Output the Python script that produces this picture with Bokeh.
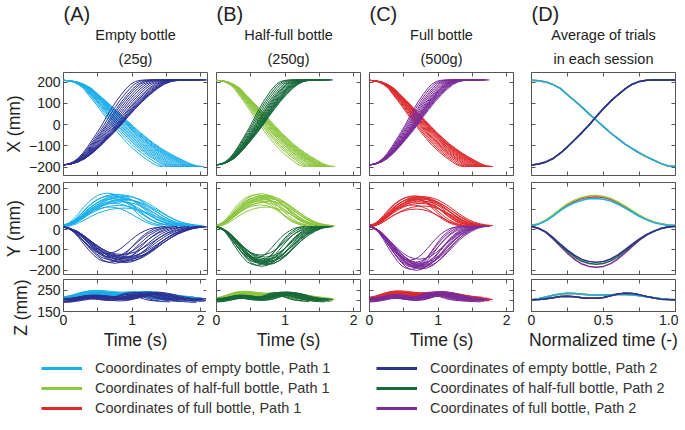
import numpy as np
from bokeh.plotting import figure
from bokeh.layouts import row, column
from bokeh.models import Range1d, FixedTicker, LinearAxis, Title, Legend, LegendItem
from bokeh.embed import file_html
from bokeh.resources import INLINE

# ---------------- data ----------------
norm_time = [0.0, 0.05, 0.1, 0.15, 0.2, 0.25, 0.3, 0.35, 0.4, 0.45, 0.5,
             0.55, 0.6, 0.65, 0.7, 0.75, 0.8, 0.85, 0.9, 0.95, 1.0]
# session-average profiles (panel D)
avg_x_path1 = [208, 206, 200, 188, 170, 140, 112, 82, 50, 20, -10, -40, -66, -92, -114, -134, -152, -168, -184, -195, -198]
avg_x_path2 = [-190, -186, -176, -160, -135, -105, -72, -38, -2, 38, 75, 110, 140, 168, 190, 203, 208, 210, 210, 210, 210]
avg_y_path1 = [20, 28, 45, 70, 98, 122, 140, 153, 160, 162, 158, 148, 132, 112, 90, 68, 50, 36, 28, 22, 20]
avg_y_path2 = [15, 5, -12, -40, -72, -102, -128, -148, -158, -162, -158, -146, -126, -100, -72, -46, -24, -8, 5, 12, 15]
avg_z_path1 = [205, 210, 218, 226, 232, 235, 234, 231, 228, 226, 226, 228, 230, 230, 228, 224, 219, 214, 210, 207, 205]
avg_z_path2 = [205, 206, 210, 215, 220, 221, 219, 215, 212, 212, 216, 224, 232, 236, 234, 228, 220, 213, 208, 206, 205]
profile_peak = 162

sessions = ["empty", "half", "full"]
session_peak_path1 = [152, 166, 160]
session_peak_path2 = [-160, -170, -185]

# individual trials: duration (s), peak of Y (mm), offset of Z (mm)
dur_empty_p1 = [1.45, 1.52, 1.58, 1.62, 1.66, 1.70, 1.74, 1.78, 1.82, 1.86, 1.90, 1.93, 1.96, 1.99, 2.02, 2.05]
peak_empty_p1 = [178, 110, 165, 150, 128, 172, 140, 160, 118, 155, 170, 135, 148, 105, 162, 145]
zoff_empty_p1 = [8, -4, 12, 0, 5, -6, 10, 2, -2, 6, 14, -8, 4, 0, 9, -3]
dur_empty_p2 = [1.40, 1.48, 1.55, 1.60, 1.66, 1.72, 1.78, 1.84, 1.90, 1.94, 1.98, 2.01, 2.04, 2.06, 2.08, 2.10]
peak_empty_p2 = [-118, -160, -135, -150, -165, -128, -145, -158, -122, -140, -162, -150, -132, -155, -145, -138]
zoff_empty_p2 = [-6, 2, -10, 4, -2, -8, 0, 6, -4, -12, 3, -5, 1, -7, 5, -1]

dur_half_p1 = [1.30, 1.36, 1.40, 1.44, 1.48, 1.50, 1.53, 1.56, 1.58, 1.60, 1.62, 1.64, 1.66, 1.68, 1.70, 1.73]
peak_half_p1 = [170, 140, 160, 120, 175, 150, 165, 132, 158, 145, 168, 110, 155, 162, 138, 150]
zoff_half_p1 = [4, -6, 8, 0, -3, 6, -8, 2, 10, -4, 0, 5, -2, 7, -5, 3]
dur_half_p2 = [1.25, 1.30, 1.35, 1.40, 1.44, 1.47, 1.50, 1.53, 1.56, 1.58, 1.60, 1.62, 1.64, 1.66, 1.68, 1.70]
peak_half_p2 = [-140, -175, -155, -165, -125, -180, -160, -150, -170, -135, -162, -158, -172, -145, -168, -155]
zoff_half_p2 = [-4, 3, -8, 0, 5, -6, 2, -2, 6, -10, 1, -3, 4, -7, 0, 2]

dur_full_p1 = [1.38, 1.42, 1.46, 1.50, 1.53, 1.56, 1.59, 1.62, 1.65, 1.67, 1.70, 1.72, 1.74, 1.76, 1.78, 1.80]
peak_full_p1 = [160, 120, 150, 165, 100, 145, 158, 135, 162, 128, 150, 140, 155, 115, 148, 160]
zoff_full_p1 = [6, -2, 10, -6, 2, 8, -4, 0, 12, -8, 4, -1, 7, -5, 3, 0]
dur_full_p2 = [1.30, 1.35, 1.40, 1.44, 1.48, 1.52, 1.55, 1.58, 1.60, 1.62, 1.64, 1.66, 1.68, 1.70, 1.72, 1.75]
peak_full_p2 = [-150, -195, -175, -185, -160, -200, -180, -170, -190, -145, -185, -178, -165, -192, -172, -182]
zoff_full_p2 = [-2, 4, -6, 0, 6, -8, 2, -4, 8, -10, 0, 3, -3, 5, -5, 1]

titles = [("(A)", "Empty bottle", "(25g)"), ("(B)", "Half-full bottle", "(250g)"),
          ("(C)", "Full bottle", "(500g)"), ("(D)", "Average of trials", "in each session")]
legend_labels_path1 = ["Cooordinates of empty bottle, Path 1", "Coordinates of half-full bottle, Path 1",
                       "Coordinates of full bottle, Path 1"]
legend_labels_path2 = ["Coordinates of empty bottle, Path 2", "Coordinates of half-full bottle, Path 2",
                       "Coordinates of full bottle, Path 2"]

colors_path1 = ["#1AAEEA", "#8DC63F", "#DE2A2E"]
colors_path2 = ["#2E3192", "#17693A", "#7B2C9A"]

time_ticks, time_minor = [0, 1, 2], [0.5, 1.5]
norm_ticks, norm_minor = [0, 0.5, 1], [0.25, 0.75]
norm_labels = {1: "1.0"}
xy_ticks, xy_minor = [-200, -100, 0, 100, 200], []
z_ticks, z_minor = [150, 250], [200]

trials = {
    "empty": [(dur_empty_p1, peak_empty_p1, zoff_empty_p1), (dur_empty_p2, peak_empty_p2, zoff_empty_p2)],
    "half": [(dur_half_p1, peak_half_p1, zoff_half_p1), (dur_half_p2, peak_half_p2, zoff_half_p2)],
    "full": [(dur_full_p1, peak_full_p1, zoff_full_p1), (dur_full_p2, peak_full_p2, zoff_full_p2)],
}

# ---------------- styling helpers ----------------
FONT = "Liberation Sans"
AX = "#555555"
TXT = "#222222"


def set_axis(ax, ticks, minor, labeled, overrides=None, axis_label=None):
    ax.axis_line_color = None
    ax.major_tick_in = 4
    ax.major_tick_out = 0
    ax.minor_tick_in = 4
    ax.minor_tick_out = 0
    ax.major_tick_line_color = AX
    ax.minor_tick_line_color = AX
    if labeled:
        ax.ticker = FixedTicker(ticks=ticks, minor_ticks=minor)
        ax.major_label_text_font = FONT
        ax.major_label_text_color = TXT
        ax.major_label_text_font_size = "14px"
        ax.major_label_standoff = 3
        if overrides:
            ax.major_label_overrides = overrides
    else:
        ax.ticker = FixedTicker(ticks=[], minor_ticks=sorted(ticks + minor))
        ax.major_label_standoff = 0
    if axis_label:
        ax.axis_label = axis_label
        ax.axis_label_text_font = FONT
        ax.axis_label_text_font_size = "17.5px"
        ax.axis_label_text_font_style = "normal"
        ax.axis_label_text_color = TXT
        ax.axis_label_standoff = 2


def make_panel(fh, xr, yr, bl, br, bt, bb, xt, xm, xlabeled, xover, yt, ym, ylabeled, xlab, ylab):
    p = figure(frame_width=144, frame_height=fh, x_range=Range1d(*xr), y_range=Range1d(*yr),
               toolbar_location=None, output_backend="svg", x_axis_type=None, y_axis_type=None,
               min_border_left=bl, min_border_right=br, min_border_top=bt, min_border_bottom=bb)
    p.outline_line_color = AX
    p.outline_line_width = 1
    p.background_fill_color = "white"
    p.border_fill_color = "white"
    bottom, left, top, right = LinearAxis(), LinearAxis(), LinearAxis(), LinearAxis()
    set_axis(bottom, xt, xm, xlabeled, xover, xlab)
    set_axis(left, yt, ym, ylabeled, None, ylab)
    set_axis(top, xt, xm, False)
    set_axis(right, yt, ym, False)
    p.add_layout(bottom, "below")
    p.add_layout(left, "left")
    p.add_layout(top, "above")
    p.add_layout(right, "right")
    return p


b_left = [54, 5, 5, 9]
b_right = [4, 4, 9, 3]

columns = []
for ci in range(4):
    is_avg = ci == 3
    xr = (0, 1.0) if is_avg else (0, 2.1)
    xt, xm = (norm_ticks, norm_minor) if is_avg else (time_ticks, time_minor)
    xover = norm_labels if is_avg else None
    first = ci == 0
    px = make_panel(103, xr, (-240, 245), b_left[ci], b_right[ci], 69, 4,
                    xt, xm, False, None, xy_ticks, xy_minor, first, None, "X (mm)" if first else None)
    py = make_panel(92, xr, (-220, 230), b_left[ci], b_right[ci], 3, 5,
                    xt, xm, False, None, xy_ticks, xy_minor, first, None, "Y (mm)" if first else None)
    pz = make_panel(32, xr, (150, 300), b_left[ci], b_right[ci], 0, 40,
                    xt, xm, True, xover, z_ticks, z_minor, first,
                    "Normalized time (-)" if is_avg else "Time (s)", None)
    if first:
        # the Z panel is short: its label hangs down from the top of the panel
        pz.add_layout(Title(text="Z (mm)", align="right", text_font=FONT, text_font_size="17.5px",
                            text_font_style="normal", text_color=TXT, standoff=7), "left")

    letter, t1, t2 = titles[ci]
    px.add_layout(Title(text=t2, align="center", text_font=FONT, text_font_size="14.5px",
                        text_font_style="normal", text_color=TXT, standoff=12), "above")
    px.add_layout(Title(text=t1, align="center", text_font=FONT, text_font_size="14.5px",
                        text_font_style="normal", text_color=TXT, standoff=0), "above")
    px.add_layout(Title(text=letter, align="left", text_font=FONT, text_font_size="20px",
                        text_font_style="normal", text_color=TXT, standoff=0), "above")

    if not is_avg:
        key = sessions[ci]
        for path in (0, 1):
            durs, peaks, zoffs = trials[key][path]
            px_prof = np.array(avg_x_path1 if path == 0 else avg_x_path2, dtype=float)
            py_prof = np.array(avg_y_path1 if path == 0 else avg_y_path2, dtype=float)
            pz_prof = np.array(avg_z_path1 if path == 0 else avg_z_path2, dtype=float)
            sign = 1 if path == 0 else -1
            xs = [np.array(norm_time) * d for d in durs]
            col = colors_path1[ci] if path == 0 else colors_path2[ci]
            px.multi_line(xs=xs, ys=[px_prof for _ in durs], line_color=col, line_width=1)
            py.multi_line(xs=xs, ys=[py_prof * (pk * sign / profile_peak) for pk in peaks],
                          line_color=col, line_width=1)
            pz.multi_line(xs=xs, ys=[pz_prof + zo for zo in zoffs], line_color=col, line_width=1)
    else:
        for si in (2, 1, 0):
            px.line(norm_time, avg_x_path1, line_color=colors_path1[si], line_width=1.5)
            px.line(norm_time, avg_x_path2, line_color=colors_path2[si], line_width=1.5)
            py.line(norm_time, np.array(avg_y_path1) * session_peak_path1[si] / profile_peak,
                    line_color=colors_path1[si], line_width=1.5)
            py.line(norm_time, np.array(avg_y_path2) * -session_peak_path2[si] / profile_peak,
                    line_color=colors_path2[si], line_width=1.5)
            pz.line(norm_time, avg_z_path1, line_color=colors_path1[si], line_width=1.5)
            pz.line(norm_time, avg_z_path2, line_color=colors_path2[si], line_width=1.5)
    columns.append(column(px, py, pz, spacing=0))

# ---------------- legend ----------------
pl = figure(width=669, height=66, x_range=(0, 1), y_range=(1000, 1001), toolbar_location=None,
            output_backend="svg", x_axis_type=None, y_axis_type=None, min_border=0)
pl.xgrid.visible = False
pl.ygrid.visible = False
pl.outline_line_color = None
for labels, cols, prof, xloc in ((legend_labels_path1, colors_path1, avg_x_path1, 41),
                                 (legend_labels_path2, colors_path2, avg_x_path2, 376)):
    items = []
    for lab, c in zip(labels, cols):
        # real data, outside this empty frame, so that only the legend glyph shows
        r = pl.line(x=norm_time, y=prof, line_color=c, line_width=3)
        items.append(LegendItem(label=lab, renderers=[r]))
    lg = Legend(items=items, location=(xloc, 0), orientation="vertical",
                glyph_width=41, glyph_height=20, label_height=20, label_standoff=13,
                spacing=0, padding=0, margin=0, border_line_color=None, background_fill_alpha=0,
                label_text_font=FONT, label_text_font_size="14.5px", label_text_color="#333333")
    pl.add_layout(lg)

layout = column(row(*columns, spacing=0), pl, spacing=0)
open("out.html", "w").write(file_html(layout, INLINE))
